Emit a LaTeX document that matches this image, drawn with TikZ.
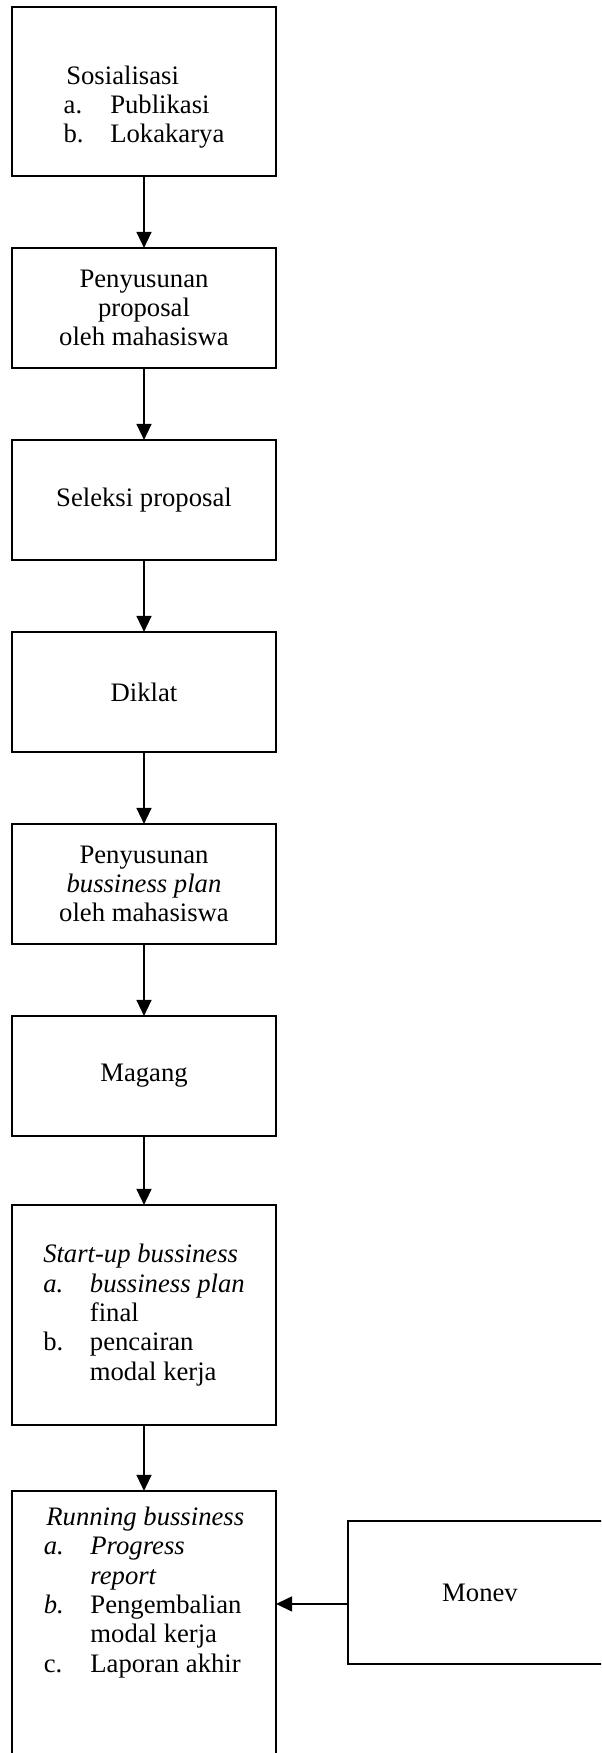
\documentclass[tikz,border=0pt]{standalone}
\usepackage{fontspec}
\setmainfont{Liberation Serif}
\usetikzlibrary{positioning}
\usetikzlibrary{arrows.meta}
\newcommand{\itemlbl}[1]{\makebox[35pt][l]{#1}}
\newcommand{\itemcont}{\hspace*{35pt}}

\begin{document}
\begin{tikzpicture}[stepbox/.style={draw, line width=1.4pt, outer sep=0pt, minimum width=198pt, minimum height=90pt, align=left, font=\fontsize{20}{22}\selectfont}, flow/.style={-{Triangle[length=12pt, width=11pt]}, line width=1.7pt}, node distance=54pt]

    \useasboundingbox (0,0) rectangle (450.75pt,-1314.75pt);
    \clip (0,0) rectangle (450.75pt,-1314.75pt);

    \node[stepbox, minimum height=126.75pt] (sosial) at (108pt,-68.6pt) {\strut\\\hspace*{2pt}Sosialisasi\\ \itemlbl{a.}Publikasi\\ \itemlbl{b.}Lokakarya};

    \node[stepbox, below=of sosial, align=center] (proposal) {Penyusunan\\proposal\\oleh mahasiswa};
    \draw[flow] (sosial) -- (proposal);

    \node[stepbox, below=of proposal] (seleksi) {Seleksi proposal};
    \draw[flow] (proposal) -- (seleksi);

    \node[stepbox, below=of seleksi] (diklat) {Diklat};
    \draw[flow] (seleksi) -- (diklat);

    \node[stepbox, below=of diklat, align=center] (bizplan) {Penyusunan\\\textit{bussiness plan}\\oleh mahasiswa};
    \draw[flow] (diklat) -- (bizplan);

    \node[stepbox, below=of bizplan] (magang) {Magang};
    \draw[flow] (bizplan) -- (magang);

    \node[stepbox, below=51.75pt of magang, minimum height=165pt] (startup) {\textit{Start-up bussiness}\\ \itemlbl{\textit{a.}}\textit{bussiness plan}\\ \itemcont final\\ \itemlbl{b.}pencairan\\ \itemcont modal kerja};
    \draw[flow] (magang) -- (startup);

    \node[stepbox, below=49.5pt of startup, inner ysep=12pt, text depth=90pt] (running) {\hspace*{2pt}\textit{Running bussiness}\\ \itemlbl{\textit{a.}}\textit{Progress}\\ \itemcont\textit{report}\\ \itemlbl{\textit{b.}}Pengembalian\\ \itemcont modal kerja\\ \itemlbl{c.}Laporan akhir};
    \draw[flow] (startup) -- (running);

    \node[stepbox, right=54pt of running.north east, anchor=north west, yshift=-22.5pt, minimum height=107.25pt] (monev) {Monev};
    \draw[flow] ([yshift=-8.6pt]monev.west) -- ([yshift=-8.6pt]monev.west -| running.east);

\end{tikzpicture}
\end{document}
